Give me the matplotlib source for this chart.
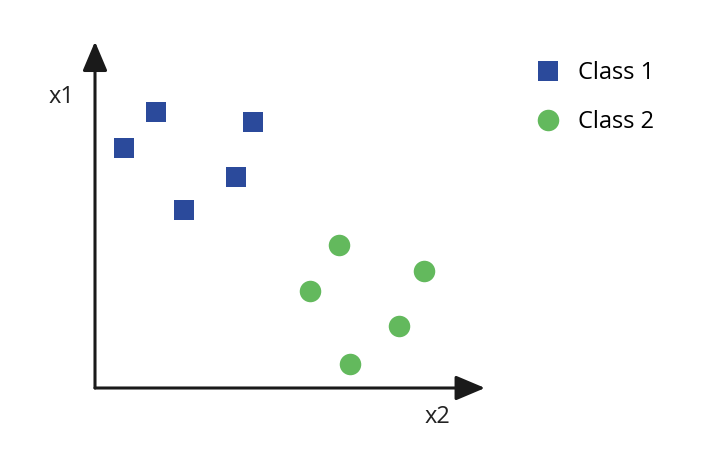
import matplotlib.pyplot as plt
from matplotlib.lines import Line2D

# Class 1 (squares) and Class 2 (circles), axis units 0..10
class1_x = [0.74, 1.56, 2.28, 3.62, 4.05]
class1_y = [7.00, 8.05, 5.19, 6.15, 7.76]
class2_x = [6.26, 8.44, 5.51, 7.79, 6.54]
class2_y = [4.17, 3.41, 2.83, 1.81, 0.70]
labels = ["Class 1", "Class 2"]

blue = "#2b4a9b"
green = "#63b95d"

plt.rcParams["font.family"] = ["Open Sans", "DejaVu Sans"]

W, H = 726, 474
fig = plt.figure(figsize=(W / 100, H / 100), dpi=100)
ax = fig.add_axes([95 / W, (H - 388) / H, 390 / W, 343 / H])
ax.set_xlim(0, 10)
ax.set_ylim(0, 10)
ax.axis("off")

# axis arrows
arrow = dict(arrowstyle="-|>,head_length=0.9,head_width=0.38", color="#1a1a1a",
             lw=2.2, shrinkA=0, shrinkB=0, mutation_scale=20)
ax.annotate("", xy=(0, 10.1), xytext=(0, 0), arrowprops=arrow, annotation_clip=False)
ax.annotate("", xy=(10, 0), xytext=(0, 0), arrowprops=arrow, annotation_clip=False)

ax.scatter(class1_x, class1_y, marker="s", s=225, color=blue, linewidths=0, clip_on=False)
ax.scatter(class2_x, class2_y, marker="o", s=240, color=green, linewidths=0, clip_on=False)

fig.text(62 / W, 1 - 97 / H, "x1", fontsize=17, color="#222222", ha="center", va="center")
fig.text(437 / W, 1 - 417 / H, "x2", fontsize=17, color="#222222", ha="center", va="center")

handles = [
    Line2D([], [], marker="s", linestyle="", markersize=15, color=blue, markeredgewidth=0),
    Line2D([], [], marker="o", linestyle="", markersize=15.5, color=green, markeredgewidth=0),
]
fig.legend(handles, labels, loc="upper left", bbox_to_anchor=(536 / W, 1 - 61 / H),
           frameon=False, fontsize=17, handletextpad=0.78, labelspacing=1.05,
           borderpad=0, borderaxespad=0, handlelength=1.0)

fig.savefig("out.png", dpi=100)
